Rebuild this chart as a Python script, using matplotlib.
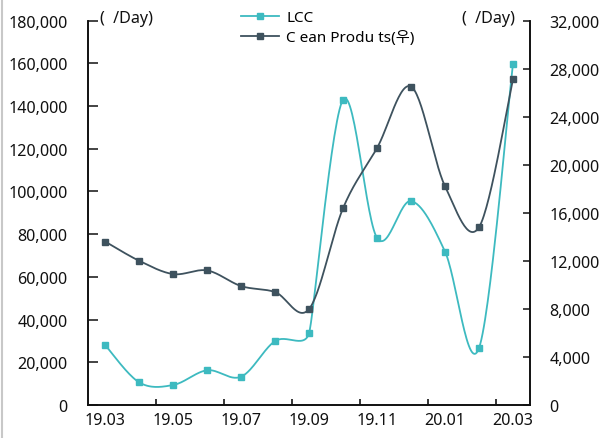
import numpy as np
import matplotlib
matplotlib.use("Agg")
import matplotlib.pyplot as plt
from matplotlib.lines import Line2D

plt.rcParams['font.family'] = ['Noto Sans', 'Noto Sans CJK KR', 'DejaVu Sans']

months = ["19.03", "19.04", "19.05", "19.06", "19.07", "19.08", "19.09",
          "19.10", "19.11", "19.12", "20.01", "20.02", "20.03"]
lcc = [28000, 10600, 9400, 16300, 13300, 30000, 33800,
       143000, 78200, 95500, 71800, 26700, 159800]
clean_products = [13600, 12000, 10900, 11200, 9900, 9400, 8000,
                  16400, 21400, 26500, 18200, 14800, 27100]
tick_labels = ["19.03", "19.05", "19.07", "19.09", "19.11", "20.01", "20.03"]

LCC_COLOR = "#3dbac0"
CP_COLOR = "#3e525e"

FIG_W, FIG_H = 605, 439
AX_RECT = [0.146, 0.075, 0.730, 0.876]
PX_PER_CAT = AX_RECT[2] * FIG_W / len(months)
PLOT_H = AX_RECT[3] * FIG_H


def smooth(xs, ys, ymax, steps=30):
    """Bezier smoothing through every point.  Each tangent arm is 1/6 of the
    neighbour chord, capped at half of the adjacent on-screen segments."""
    xs = np.asarray(xs, float) * PX_PER_CAT
    ys = np.asarray(ys, float) * PLOT_H / ymax
    pts = np.column_stack([xs, ys])
    n = len(pts)

    def arm(i, toward_next):
        prev_p = pts[max(i - 1, 0)]
        next_p = pts[min(i + 1, n - 1)]
        chord = next_p - prev_p
        d02 = np.hypot(*chord)
        if d02 == 0:
            return np.zeros(2)
        lengths = [d02 / 6]
        if i > 0:
            lengths.append(np.hypot(*(pts[i] - pts[i - 1])) / 2)
        if i < n - 1:
            lengths.append(np.hypot(*(pts[i + 1] - pts[i])) / 2)
        v = chord / d02 * min(lengths)
        return v if toward_next else -v

    t = np.linspace(0, 1, steps, endpoint=False)[:, None]
    out = []
    for i in range(n - 1):
        p1, p2 = pts[i], pts[i + 1]
        c1 = p1 + arm(i, True)
        c2 = p2 + arm(i + 1, False)
        b = (1 - t) ** 3 * p1 + 3 * (1 - t) ** 2 * t * c1 \
            + 3 * (1 - t) * t ** 2 * c2 + t ** 3 * p2
        out.append(b)
    out.append(pts[-1:])
    out = np.vstack(out)
    return out[:, 0] / PX_PER_CAT, out[:, 1] * ymax / PLOT_H


fig = plt.figure(figsize=(FIG_W / 100, FIG_H / 100), dpi=100)
ax = fig.add_axes(AX_RECT)
ax2 = ax.twinx()

x = np.arange(len(months))
LEFT_MAX, RIGHT_MAX = 180000, 32000

sx, sy = smooth(x, lcc, LEFT_MAX)
ax.plot(sx, sy, color=LCC_COLOR, lw=1.3, zorder=3)
ax.plot(x, lcc, ls="none", marker="s", ms=4.8, color=LCC_COLOR, zorder=4)

cx, cy = smooth(x, clean_products, RIGHT_MAX)
ax2.plot(cx, cy, color=CP_COLOR, lw=1.3, zorder=3)
ax2.plot(x, clean_products, ls="none", marker="s", ms=4.8, color=CP_COLOR, zorder=4)

ax.set_xlim(-0.5, len(months) - 0.5)
ax.set_ylim(0, LEFT_MAX)
ax2.set_ylim(0, RIGHT_MAX)

ax.set_yticks(np.arange(0, LEFT_MAX + 1, 20000))
ax.set_yticklabels([f"{v:,}" for v in range(0, LEFT_MAX + 1, 20000)])
ax2.set_yticks(np.arange(0, RIGHT_MAX + 1, 4000))
ax2.set_yticklabels([f"{v:,}" for v in range(0, RIGHT_MAX + 1, 4000)])

# category boundaries as ticks, labels on every other month
ax.set_xticks(np.arange(1.5, len(months) - 1, 2))
ax.set_xticklabels([])
ax.set_xticks(np.arange(0, len(months), 2), minor=True)
ax.set_xticklabels(tick_labels, minor=True)

for a in (ax, ax2):
    a.spines["top"].set_visible(False)
    for s in a.spines.values():
        s.set_linewidth(1.2)
        s.set_color("#111111")

ax.tick_params(axis="y", direction="in", length=7, width=1.1, pad=15,
               labelsize=11.6, colors="#111111")
ax2.tick_params(axis="y", direction="in", length=5, width=1.1, pad=14,
                labelsize=11.6, colors="#111111")
ax.tick_params(axis="x", which="major", direction="in", length=4, width=1.1)
ax.tick_params(axis="x", which="minor", length=0, pad=5, labelsize=11.6,
               labelcolor="#111111")

fig.text(100 / FIG_W, 1 - 19 / FIG_H, "(  /Day)", fontsize=11.6, va="center",
         ha="left", color="#111111")
fig.text(515 / FIG_W, 1 - 19 / FIG_H, "(  /Day)", fontsize=11.6, va="center",
         ha="right", color="#111111")

handles = [
    Line2D([], [], color=LCC_COLOR, lw=1.3, marker="s", ms=4.8),
    Line2D([], [], color=CP_COLOR, lw=1.3, marker="s", ms=4.8),
]
fig.legend(handles, ["LCC", "C ean Produ ts(우)"], loc="upper left",
           bbox_to_anchor=(241 / FIG_W, 1 - 11 / FIG_H), frameon=False,
           fontsize=11, handlelength=2.5, handletextpad=0.45,
           borderpad=0, borderaxespad=0, labelspacing=0.35)

# thin frame edge on the left of the image
fig.add_artist(Line2D([2 / FIG_W, 2 / FIG_W], [0, 1], transform=fig.transFigure,
                      color="#c8c8c8", lw=1.5))

fig.savefig("out.png", dpi=100)
